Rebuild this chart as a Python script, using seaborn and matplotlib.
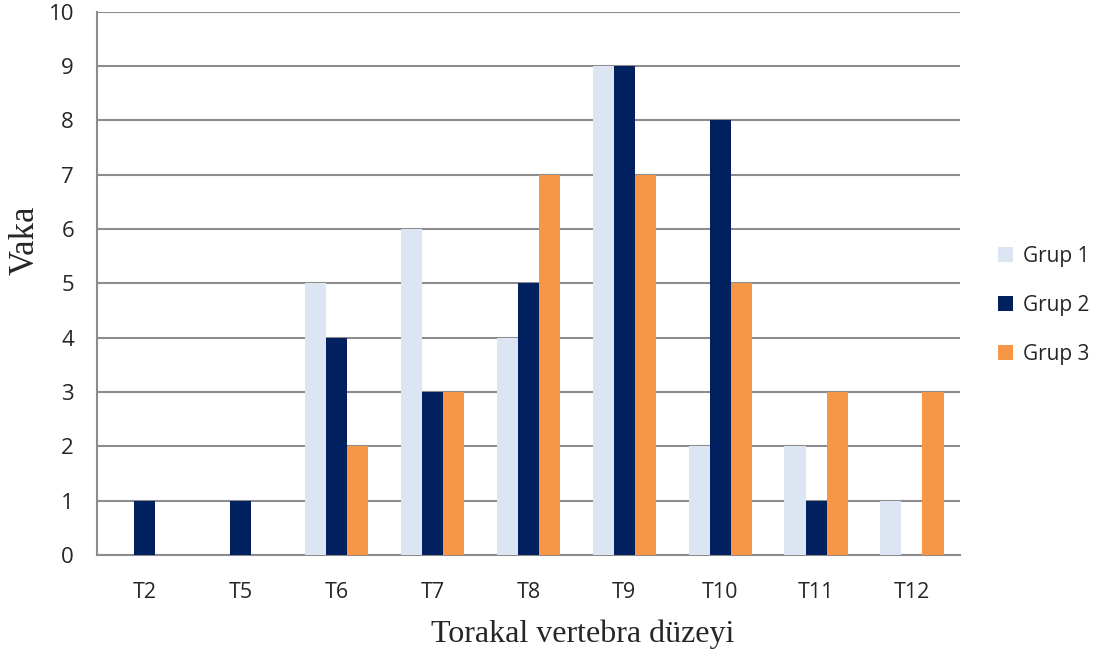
import matplotlib.pyplot as plt
import numpy as np
import pandas as pd
import seaborn as sns
from matplotlib.ticker import FixedLocator

levels = ['T2', 'T5', 'T6', 'T7', 'T8', 'T9', 'T10', 'T11', 'T12']
groups = ['Grup 1', 'Grup 2', 'Grup 3']
grup1 = [0, 0, 5, 6, 4, 9, 2, 2, 1]
grup2 = [1, 1, 4, 3, 5, 9, 8, 1, 0]
grup3 = [0, 0, 2, 3, 7, 7, 5, 3, 3]
colors = ['#DCE6F2', '#002060', '#F79646']

df = pd.DataFrame({
    'level': levels * 3,
    'group': np.repeat(groups, len(levels)),
    'count': grup1 + grup2 + grup3,
})

sns.set_theme(style="white")
grid_col = '#8c8c8c'

fig = plt.figure(figsize=(11.07, 6.57), dpi=100)
ax = fig.add_axes([0.0876, 0.155, 0.7795, 0.827])

sns.barplot(data=df, x='level', y='count', hue='group', order=levels,
            hue_order=groups, palette=colors, width=0.66, saturation=1,
            linewidth=0, ax=ax, zorder=3)

ax.set_ylim(0, 10)
ax.set_xlim(-0.5, len(levels) - 0.5)
ax.set_yticks(range(0, 11))
ax.yaxis.grid(True, color=grid_col, linewidth=1.5, zorder=0)
ax.set_axisbelow(True)

for side in ['top', 'right']:
    ax.spines[side].set_visible(False)
for side in ['left', 'bottom']:
    ax.spines[side].set_color(grid_col)
    ax.spines[side].set_linewidth(1.5)

ax.tick_params(axis='y', which='major', direction='out', length=6.5, width=1.5,
               color=grid_col, labelsize=16, pad=10)
ax.tick_params(axis='x', which='major', length=0, labelsize=15.5, pad=19)
ax.xaxis.set_minor_locator(FixedLocator(np.arange(-0.5, len(levels), 1)))
ax.tick_params(axis='x', which='minor', direction='out', length=6, width=1.5,
               color=grid_col)

for lab in ax.get_xticklabels() + ax.get_yticklabels():
    lab.set_fontfamily('Open Sans')

ax.set_xlabel('Torakal vertebra düzeyi', fontsize=23, family='Liberation Serif')
ax.set_ylabel('Vaka', fontsize=25, family='Liberation Serif')
ax.xaxis.set_label_coords(0.5625, -0.118)
ax.yaxis.set_label_coords(-0.064, 0.58)

leg = ax.legend(loc='center left', bbox_to_anchor=(1.022, 0.46), frameon=False,
                handlelength=0.75, handleheight=0.75, handletextpad=0.45,
                labelspacing=1.35, prop={'family': 'Open Sans', 'size': 15})

plt.savefig('out.png', dpi=100)
